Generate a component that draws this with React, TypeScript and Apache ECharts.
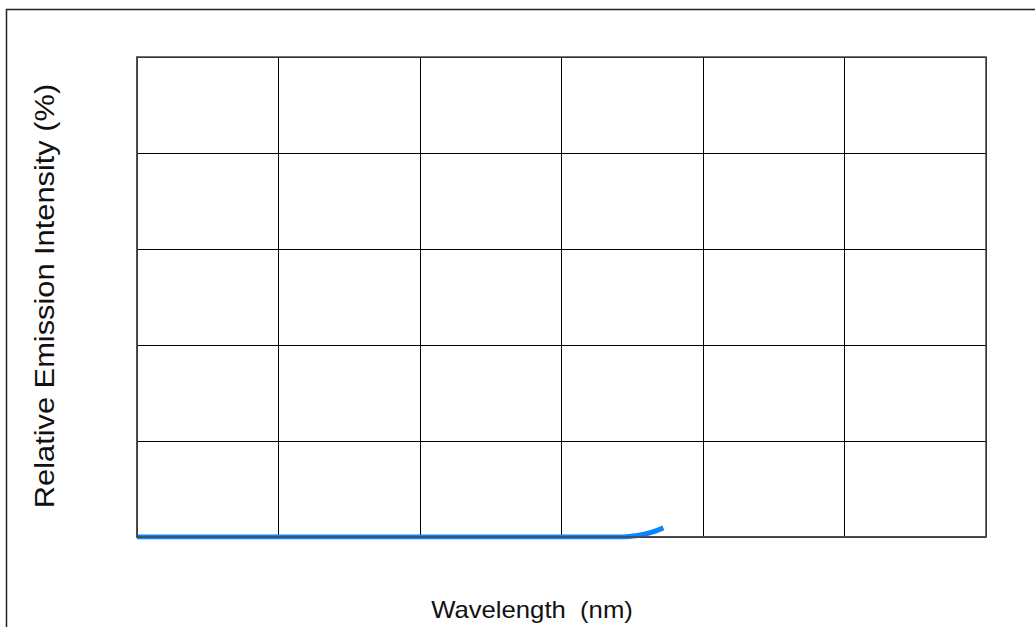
import React, { useEffect, useRef } from "react";
import * as echarts from "echarts";

const xTitle = "Wavelength  (nm)";
const yTitle = "Relative Emission Intensity (%)";
const xMin = 300;
const xMax = 900;
const xStep = 100;
const yMin = 0;
const yMax = 100;
const yStep = 20;
const wavelengths = [300, 400, 500, 600, 640, 648, 656, 664, 672];
const intensity = [0, 0, 0, 0, 0, 0.12, 0.4, 1.0, 1.9];

export default function App() {
  const ref = useRef<HTMLDivElement>(null);
  useEffect(() => {
    document.body.style.margin = "0";
    const chart = echarts.init(ref.current!, null, { renderer: "svg" });
    chart.setOption({
      animation: false,
      backgroundColor: "#ffffff",
      grid: { left: 137, top: 57, right: 49, bottom: 90 },
      xAxis: {
        type: "value",
        min: xMin,
        max: xMax,
        interval: xStep,
        axisLabel: { show: false },
        axisTick: { show: false },
        axisLine: { show: true, onZero: false, lineStyle: { color: "#444", width: 1.5 } },
        splitLine: { show: true, lineStyle: { color: "#000", width: 1 } },
      },
      yAxis: {
        type: "value",
        min: yMin,
        max: yMax,
        interval: yStep,
        axisLabel: { show: false },
        axisTick: { show: false },
        axisLine: { show: true, lineStyle: { color: "#444", width: 1.5 } },
        splitLine: { show: true, lineStyle: { color: "#000", width: 1 } },
      },
      series: [
        {
          type: "line",
          data: wavelengths.map((w, i) => [w, intensity[i]]),
          showSymbol: false,
          smooth: 0.3,
          lineStyle: { color: "#0a84ff", width: 5 },
          z: 5,
        },
      ],
      graphic: [
        {
          type: "rect",
          shape: { x: 6.5, y: 9.5, width: 1100, height: 700 },
          style: { fill: "none", stroke: "#222", lineWidth: 1.5 },
          silent: true,
        },
        {
          type: "rect",
          shape: { x: 137, y: 57, width: 849, height: 480 },
          style: { fill: "none", stroke: "#444", lineWidth: 1.5 },
          silent: true,
          z: 10,
        },
        {
          type: "text",
          x: 532,
          y: 610,
          scaleX: 1.07,
          style: {
            text: xTitle,
            fill: "#111",
            font: "24px 'Liberation Sans', Arial, sans-serif",
            textAlign: "center",
            textVerticalAlign: "middle",
          },
        },
        {
          type: "text",
          x: 44,
          y: 296,
          rotation: Math.PI / 2,
          scaleX: 1.1,
          style: {
            text: yTitle,
            fill: "#111",
            font: "28px 'Liberation Sans', Arial, sans-serif",
            textAlign: "center",
            textVerticalAlign: "middle",
          },
        },
      ],
    });
    return () => chart.dispose();
  }, []);
  return <div ref={ref} style={{ width: 1035, height: 627 }} />;
}
